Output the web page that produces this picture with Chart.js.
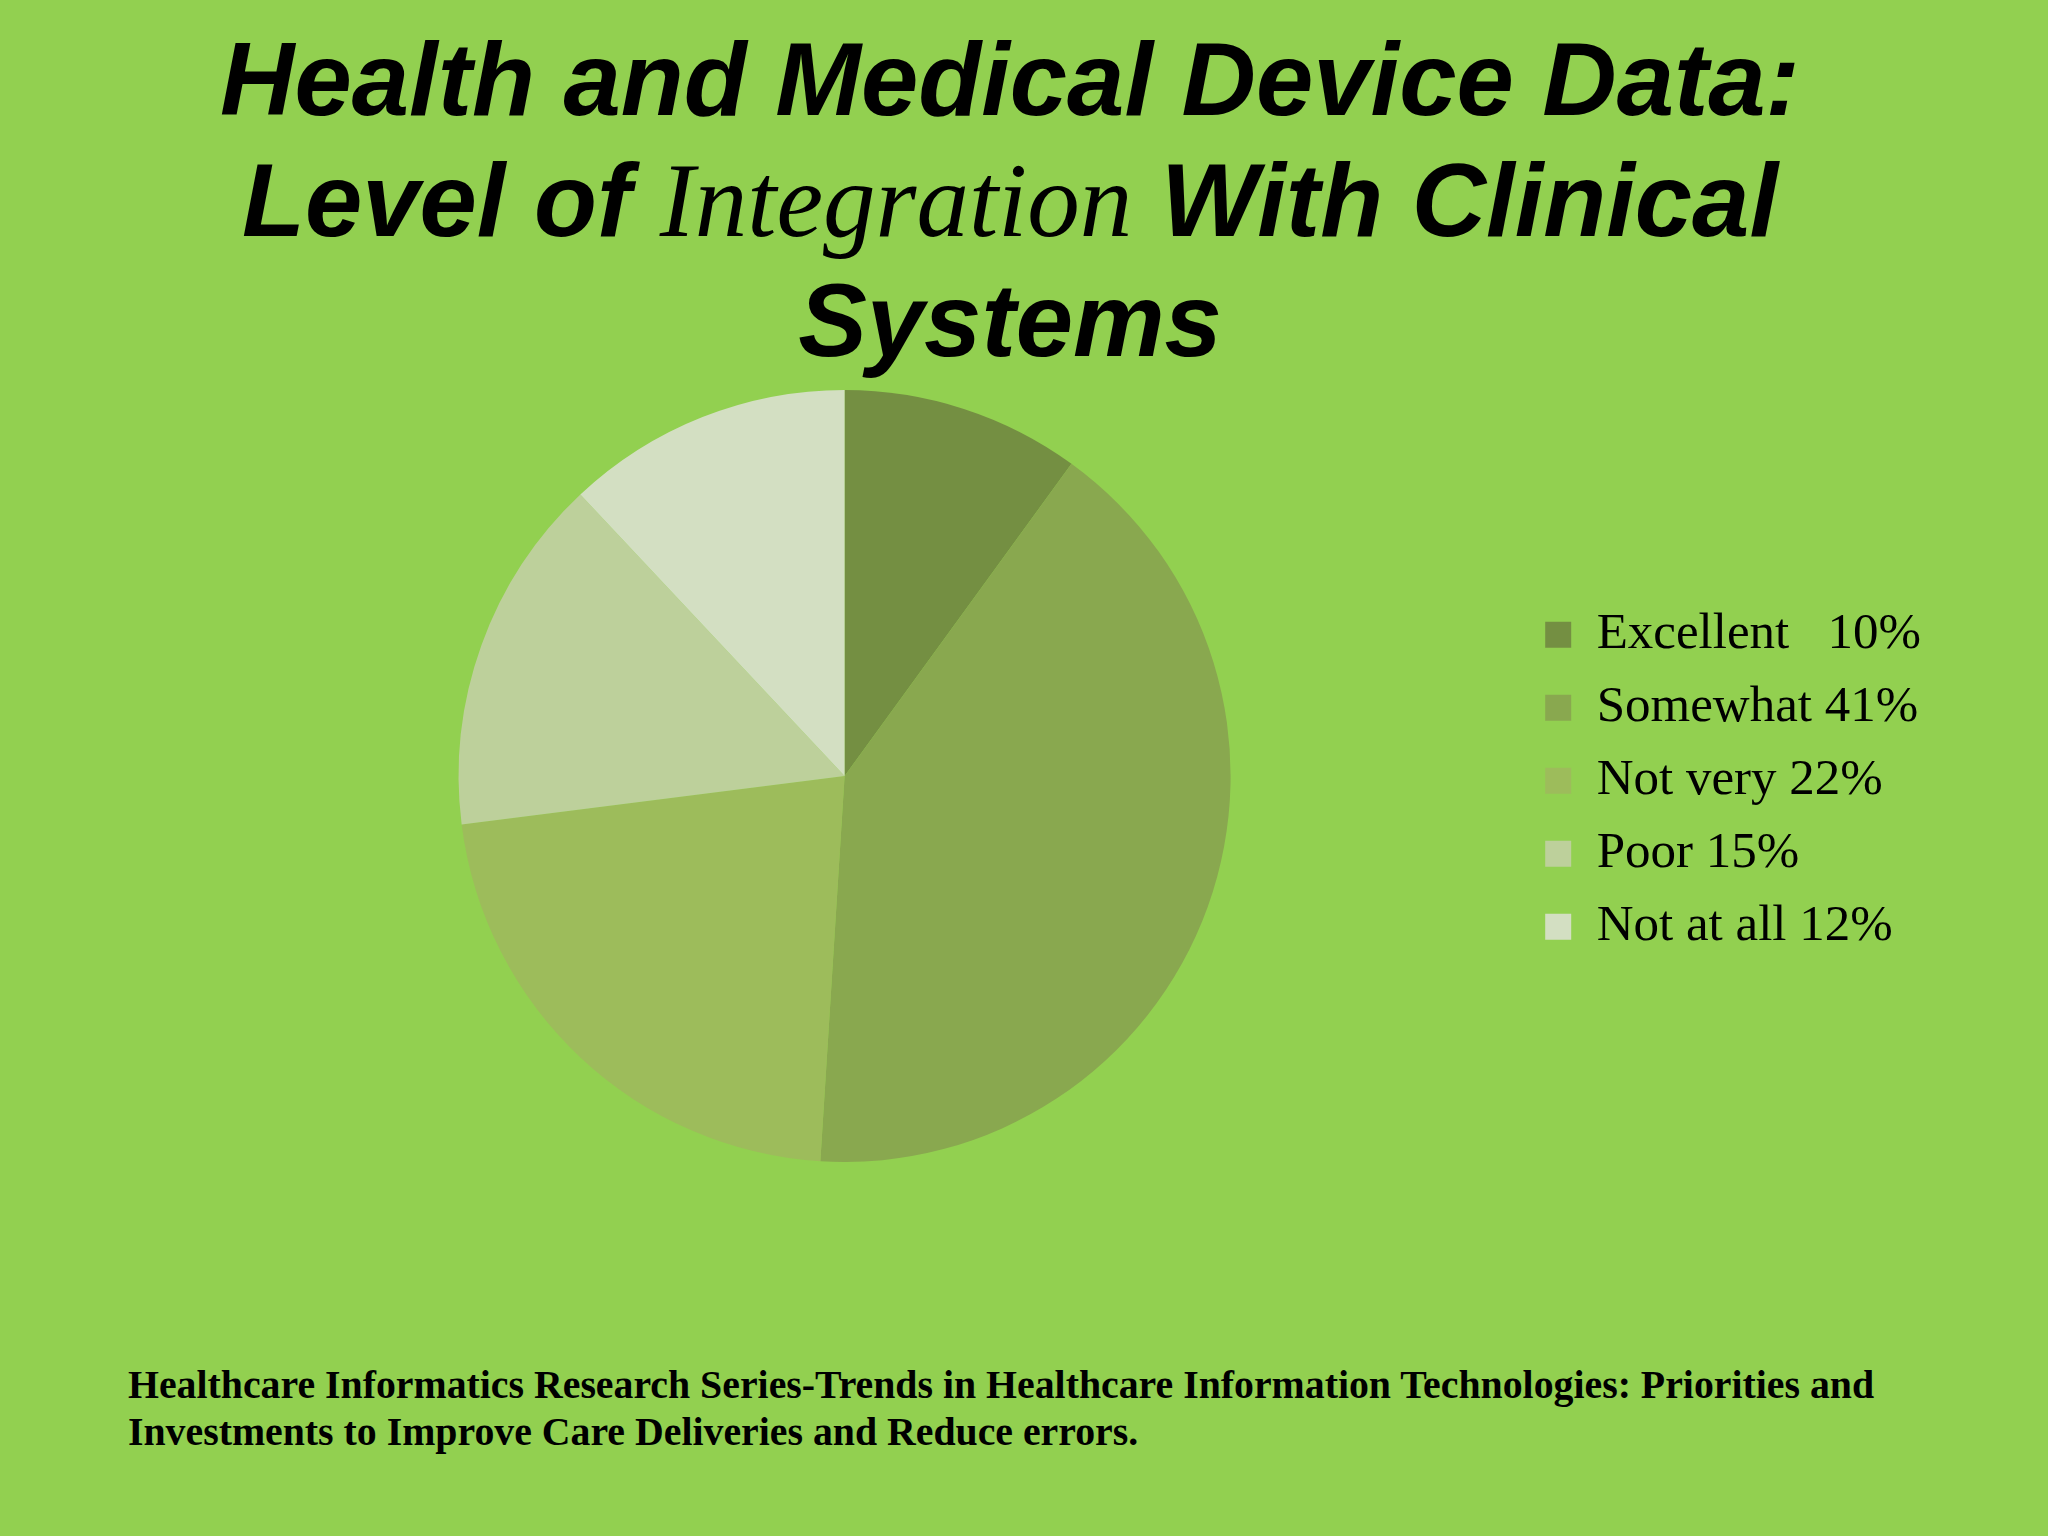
<!DOCTYPE html>
<html>
<head>
<meta charset="utf-8">
<title>Health and Medical Device Data</title>
<script src="https://cdn.jsdelivr.net/npm/chart.js@4.4.1/dist/chart.umd.min.js"></script>
<style>
  html, body { margin:0; padding:0; }
  body { width:2048px; height:1536px; background:#92d050; position:relative; overflow:hidden; }
  #title {
    position:absolute; left:0; top:20px; width:2020px; text-align:center;
    font: italic bold 103px "Liberation Sans", Arial, sans-serif; line-height:120px; color:#000;
  }
  #title .serif { font: italic normal 105px "Liberation Serif", "Times New Roman", serif; }
  #pie { position:absolute; left:0; top:390px; }
  #note {
    position:absolute; left:128px; top:1362px; width:1900px;
    font: bold 39.8px "Liberation Serif", "Times New Roman", serif; line-height:47px; color:#000;
  }
</style>
</head>
<body>
<div id="title">Health and Medical Device Data:<br>Level of <span class="serif">Integration</span> With Clinical<br>Systems</div>
<canvas id="pie" width="1931" height="772"></canvas>
<div id="note">Healthcare Informatics Research Series-Trends in Healthcare Information Technologies: Priorities and<br>Investments to Improve Care Deliveries and Reduce errors.</div>
<script>
// legend text as printed on the slide
const labels = ['Excellent   10%', 'Somewhat 41%', 'Not very 22%', 'Poor 15%', 'Not at all 12%'];
const values = [10, 41, 22, 15, 12];
const colors = ['#748f42', '#89a84f', '#9dbc5b', '#bdd09b', '#d3dfc2'];

const ctx = document.getElementById('pie').getContext('2d');
new Chart(ctx, {
    type: 'pie',
    data: {
        labels: labels,
        datasets: [{ data: values, backgroundColor: colors, borderWidth: 0 }]
    },
    options: {
        responsive: false,
        animation: false,
        layout: { padding: { left: 166, right: 0, top: 0, bottom: 0 } },
        plugins: {
            tooltip: { enabled: false },
            legend: {
                position: 'right',
                // blank title just nudges the items down a few px
                title: { display: true, text: ' ', font: { size: 8 }, padding: 0 },
                labels: {
                    boxWidth: 26, boxHeight: 26, padding: 22, color: '#000',
                    font: { family: '"Liberation Serif", "Times New Roman", serif', size: 51 }
                }
            }
        }
    }
});
</script>
</body>
</html>
